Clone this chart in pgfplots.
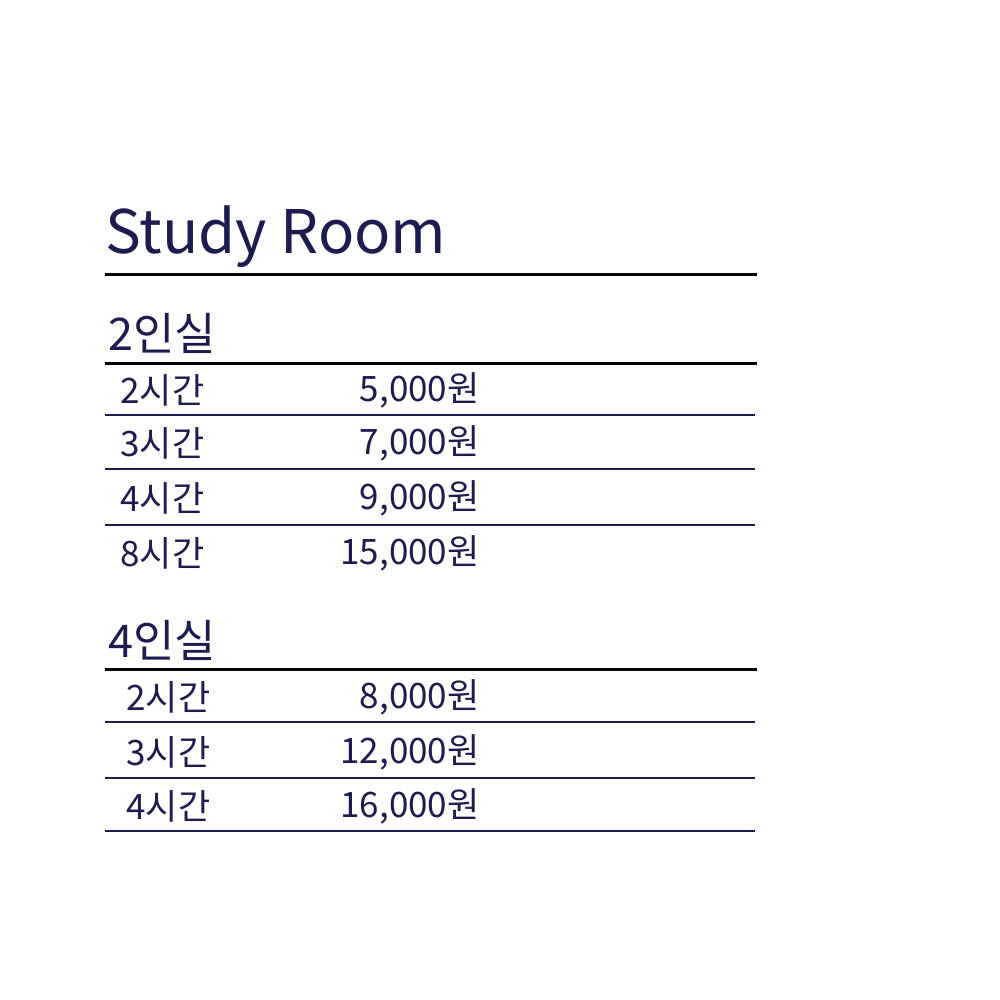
\documentclass[border=0pt]{standalone}
\usepackage{pgfplots}
\pgfplotsset{compat=1.18}
\usepackage{fontspec}
\setmainfont{Noto Sans CJK KR}
\definecolor{navy}{HTML}{1C1C50}
\tikzset{lab/.style={anchor=west,text=navy,font=\fontsize{14}{16}\selectfont,inner sep=0pt},
 pr/.style={anchor=east,text=navy,font=\fontsize{14}{16}\selectfont,inner sep=0pt}}
\begin{document}
\begin{tikzpicture}
\begin{axis}[width=400pt,height=400pt,scale only axis,xmin=0,xmax=1000,ymin=0,ymax=1000,hide axis,clip=false]
\addplot[draw=none,fill=white] coordinates {(0,0)(1000,0)(1000,1000)(0,1000)} -- cycle;
\addplot[black,line width=1.2pt] coordinates {(105,725)(757,725)};
\addplot[black,line width=1.2pt] coordinates {(105,636)(757,636)};
\addplot[black,line width=1.2pt] coordinates {(105,330)(757,330)};
\addplot[navy,line width=0.6pt] coordinates {(105,585)(755,585)};
\addplot[navy,line width=0.6pt] coordinates {(105,531)(755,531)};
\addplot[navy,line width=0.6pt] coordinates {(105,475)(755,475)};
\addplot[navy,line width=0.6pt] coordinates {(105,278)(755,278)};
\addplot[navy,line width=0.6pt] coordinates {(105,222)(755,222)};
\addplot[navy,line width=0.6pt] coordinates {(105,169)(755,169)};
\node[anchor=west,text=navy,font=\fontsize{24}{28}\selectfont,inner sep=0pt] at (axis cs:105,763) {Study Room};
\node[anchor=west,text=navy,font=\fontsize{18}{22}\selectfont,inner sep=0pt] at (axis cs:108,667) {2인실};
\node[anchor=west,text=navy,font=\fontsize{18}{22}\selectfont,inner sep=0pt] at (axis cs:108,360) {4인실};
\node[lab] at (axis cs:120,610) {2시간};
\node[pr] at (axis cs:480,610) {5,000원};
\node[lab] at (axis cs:120,557) {3시간};
\node[pr] at (axis cs:480,557) {7,000원};
\node[lab] at (axis cs:120,502) {4시간};
\node[pr] at (axis cs:480,502) {9,000원};
\node[lab] at (axis cs:120,447) {8시간};
\node[pr] at (axis cs:480,447) {15,000원};
\node[lab] at (axis cs:126,303) {2시간};
\node[pr] at (axis cs:480,303) {8,000원};
\node[lab] at (axis cs:126,248) {3시간};
\node[pr] at (axis cs:480,248) {12,000원};
\node[lab] at (axis cs:126,194) {4시간};
\node[pr] at (axis cs:480,194) {16,000원};
\end{axis}
\end{tikzpicture}
\end{document}
